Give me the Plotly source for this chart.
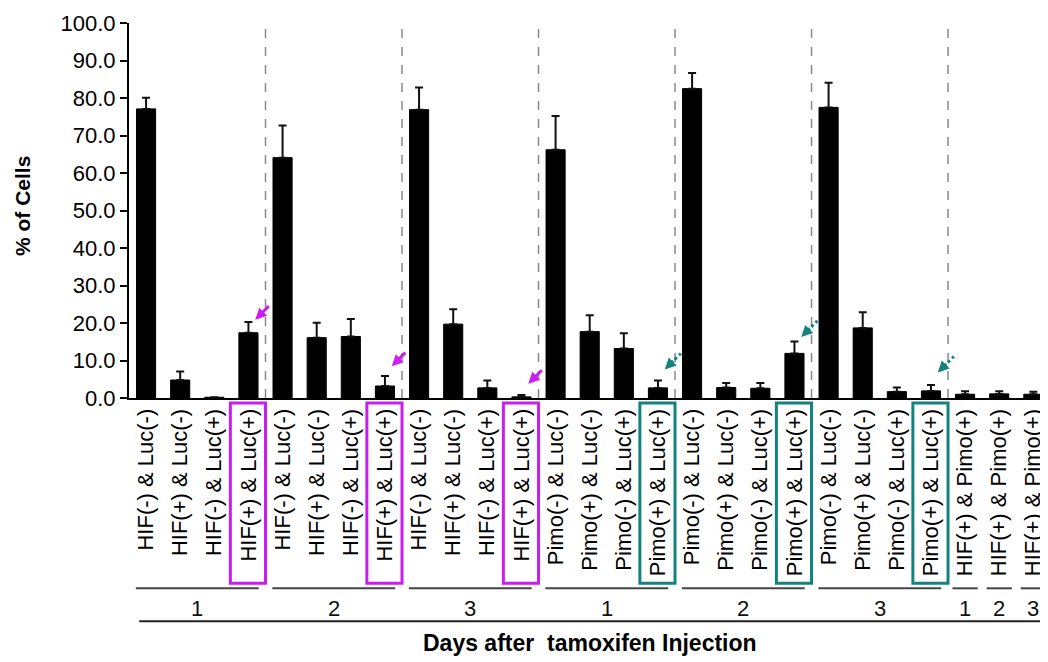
import plotly.graph_objects as go

# ---------------- data ----------------
labels = (["HIF(-) & Luc(-)", "HIF(+) & Luc(-)", "HIF(-) & Luc(+)", "HIF(+) & Luc(+)"] * 3
          + ["Pimo(-) & Luc(-)", "Pimo(+) & Luc(-)", "Pimo(-) & Luc(+)", "Pimo(+) & Luc(+)"] * 3
          + ["HIF(+) & Pimo(+)"] * 3)
values = [77.1, 4.8, 0.2, 17.4, 64.1, 16.1, 16.4, 3.2, 76.9, 19.7, 2.7, 0.3,
          66.2, 17.7, 13.2, 2.7, 82.5, 2.8, 2.6, 11.9, 77.5, 18.7, 1.7, 1.9,
          1.0, 1.1, 1.0]
errors = [3.0, 2.3, 0.0, 2.9, 8.6, 4.0, 4.7, 2.7, 5.9, 4.0, 2.0, 0.5,
          9.0, 4.4, 4.1, 2.0, 4.2, 1.2, 1.4, 3.2, 6.6, 4.2, 1.1, 1.6,
          0.8, 0.7, 0.7]
day_labels = ["1", "2", "3", "1", "2", "3", "1", "2", "3"]
group_starts = [0, 4, 8, 12, 16, 20, 24, 25, 26]
group_ends = [3, 7, 11, 15, 19, 23, 24, 25, 26]
magenta_idx = [3, 7, 11]
teal_idx = [15, 19, 23]
y_ticks = [0, 10, 20, 30, 40, 50, 60, 70, 80, 90, 100]

FONT = "Liberation Sans, Arial, sans-serif"
MAGENTA = "#cc1df0"
TEAL = "#14837d"

# page body has an 8px margin: figure is sized to fill the rest of the window
W, H = 1040, 654
ML, MR, MT, MB = 121, 1, 15, 264
XR = (-0.5, 26.4)
YR = (0, 100)
px_x = (W - ML - MR) / (XR[1] - XR[0])   # pixels per x unit
px_y = (H - MT - MB) / (YR[1] - YR[0])   # pixels per y unit

x = list(range(len(values)))

fig = go.Figure()
fig.add_trace(go.Bar(
    x=x, y=values, width=0.56,
    marker=dict(color="black", line=dict(color="black", width=1)),
    error_y=dict(type="data", symmetric=False, array=errors,
                 arrayminus=[0] * len(errors), color="#111", thickness=2, width=4),
    showlegend=False,
))

shapes = []
# dashed separators between the day blocks
for s in group_starts[1:7]:
    shapes.append(dict(type="line", xref="x", yref="paper", x0=s - 0.5, x1=s - 0.5,
                       y0=0, y1=1.005, line=dict(color="#8a8a8a", width=1.5, dash="dash")))
# highlight boxes around tick labels
for idxs, col in ((magenta_idx, MAGENTA), (teal_idx, TEAL)):
    for i in idxs:
        shapes.append(dict(type="rect", xref="x", yref="paper", x0=i - 0.53, x1=i + 0.5,
                           y0=-0.494, y1=-0.013, line=dict(color=col, width=3)))
# group lines
for s, e in zip(group_starts, group_ends):
    pad = 0.3 if e > s else 0.37
    shapes.append(dict(type="line", xref="x", yref="paper", x0=s - pad, x1=e + pad,
                       y0=-0.5075, y1=-0.5075, line=dict(color="#444", width=2)))
# long baseline under days
shapes.append(dict(type="line", xref="x", yref="paper", x0=-0.2, x1=26.35,
                   y0=-0.5956, y1=-0.5956, line=dict(color="#222", width=2)))

annotations = []
for s, e, d in zip(group_starts, group_ends, day_labels):
    annotations.append(dict(x=(s + e) / 2, y=-0.562, xref="x", yref="paper", text=d,
                            showarrow=False, font=dict(family=FONT, size=22, color="#111"),
                            xanchor="center", yanchor="middle"))
# arrows pointing at highlighted bars
arrow_pad = [0.6, 2.6, 3.0, 2.9, 1.2, 3.3]
arrow_list = [(i, MAGENTA, False) for i in magenta_idx] + [(i, TEAL, True) for i in teal_idx]
for k, (i, col, dashed) in enumerate(arrow_list):
    tx, ty = i + 0.2, values[i] + errors[i] + arrow_pad[k]
    if not dashed:
        annotations.append(dict(x=tx, y=ty, xref="x", yref="y", ax=15, ay=-15,
                                showarrow=True, arrowhead=2, arrowsize=0.75,
                                arrowwidth=3, arrowcolor=col, text=""))
    else:
        annotations.append(dict(x=tx, y=ty, xref="x", yref="y", ax=10, ay=-10,
                                showarrow=True, arrowhead=2, arrowsize=0.75,
                                arrowwidth=3, arrowcolor=col, text=""))
        shapes.append(dict(type="line", xref="x", yref="y",
                           x0=tx + 10 / px_x, y0=ty + 10 / px_y,
                           x1=tx + 16 / px_x, y1=ty + 16 / px_y,
                           line=dict(color=col, width=3, dash="dot")))
# axis titles
annotations.append(dict(x=(22 - 8 - ML) / (W - ML - MR), y=0.512, xref="paper", yref="paper",
                        text="<b>% of Cells</b>", textangle=-90, showarrow=False,
                        font=dict(family=FONT, size=21, color="black"),
                        xanchor="center", yanchor="middle"))
annotations.append(dict(x=0.502, y=-0.654, xref="paper", yref="paper",
                        text="<b>Days after&nbsp; tamoxifen Injection</b>",
                        showarrow=False, font=dict(family=FONT, size=23, color="black"),
                        xanchor="center", yanchor="middle"))

fig.update_layout(
    width=W, height=H,
    margin=dict(l=ML, r=MR, t=MT, b=MB, autoexpand=False),
    paper_bgcolor="white", plot_bgcolor="white",
    font=dict(family=FONT, color="black"),
    shapes=shapes, annotations=annotations,
)
fig.update_xaxes(
    range=list(XR), tickmode="array", tickvals=x, ticktext=labels, tickangle=-90,
    tickfont=dict(family=FONT, size=22, color="black"),
    showline=True, linecolor="black", linewidth=2, showgrid=False, zeroline=False,
    ticks="", automargin=False,
)
fig.update_yaxes(
    range=list(YR), tickmode="array", tickvals=y_ticks, tickformat=".1f",
    tickfont=dict(family=FONT, size=22, color="black"),
    showline=True, linecolor="black", linewidth=2, showgrid=False, zeroline=False,
    ticks="outside", ticklen=7, tickwidth=1.5, tickcolor="black", automargin=False,
)

fig.write_html("out.html")
